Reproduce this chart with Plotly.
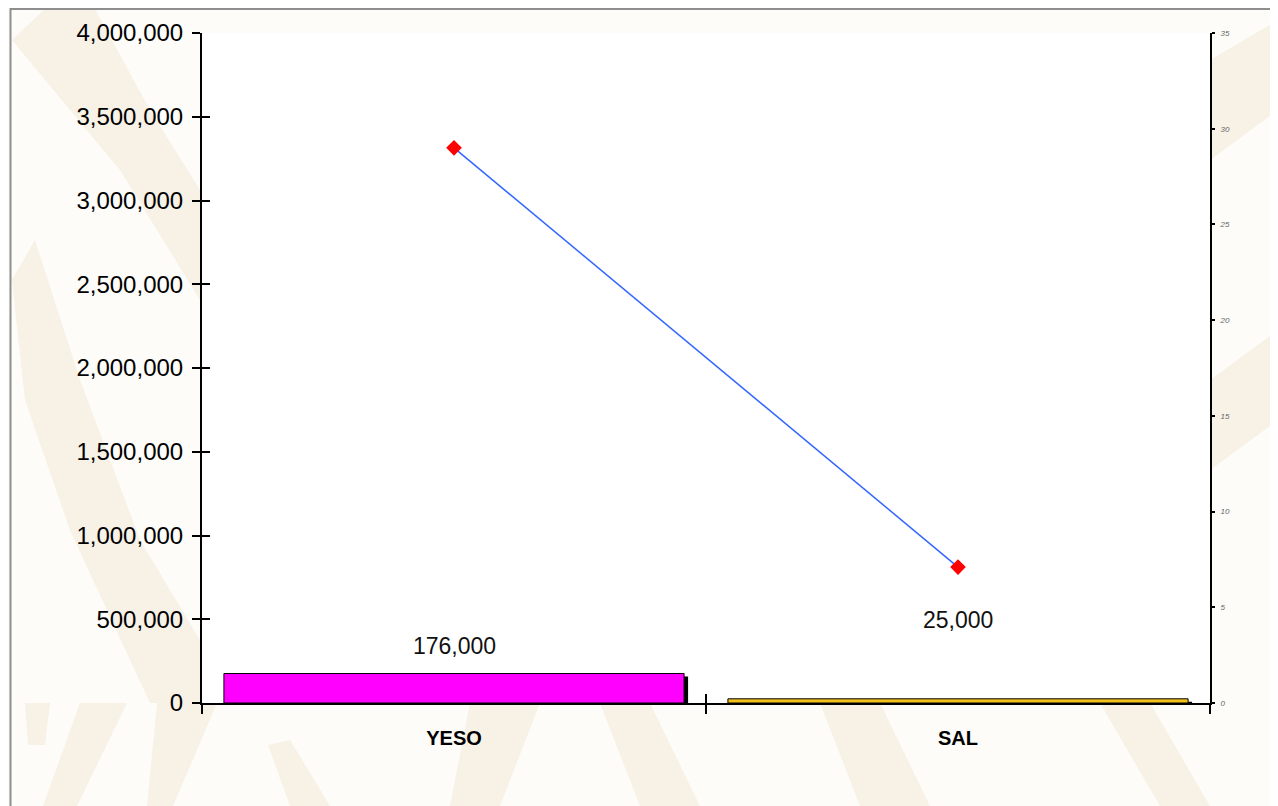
import plotly.graph_objects as go

# ---- data ----
categories = ["YESO", "SAL"]
bar_values = [176000, 25000]
bar_labels = ["176,000", "25,000"]
bar_colors = ["#FF00FF", "#F2C21B"]
line_values = [29.0, 7.1]

left_ticks = [0, 500000, 1000000, 1500000, 2000000, 2500000, 3000000, 3500000, 4000000]
right_ticks = [0, 5, 10, 15, 20, 25, 30, 35]

# ---- geometry (screen pixels; page has an 8px body margin) ----
OFF = 8
SW, SH = 1278, 806
W, H = SW - OFF, SH - OFF
PL, PR, PT, PB = 202, 1210, 33, 703   # plot area on screen
L, T = PL - OFF, PT - OFF
R, B = (OFF + W) - PR, (OFF + H) - PB
PW = PR - PL
PH = PB - PT
YMAX = 4000000
px_per_val = PH / YMAX

def xp(px):
    return (px - PL) / PW

def yp(py):
    return (PB - py) / PH

FONT = "Arial, 'Liberation Sans', sans-serif"
BAR_W = 0.913
shadow_dx = 4 / (PW / len(categories))
shadow_dy = 3 / px_per_val

fig = go.Figure()

# shadows
fig.add_trace(go.Bar(
    x=categories, y=bar_values, base=[-shadow_dy] * len(bar_values),
    width=BAR_W, offset=-BAR_W / 2 + shadow_dx,
    marker=dict(color="black", line=dict(width=0)),
    showlegend=False, hoverinfo="skip"))
# bars
fig.add_trace(go.Bar(
    x=categories, y=bar_values, width=BAR_W, offset=-BAR_W / 2,
    marker=dict(color=bar_colors, line=dict(color="black", width=1)),
    showlegend=False))
# line on secondary axis
fig.add_trace(go.Scatter(
    x=categories, y=line_values, yaxis="y2", mode="lines+markers",
    line=dict(color="#3366FF", width=1.5),
    marker=dict(symbol="diamond", size=12, color="#FF0000"),
    showlegend=False))
# helper trace for inner-tick axes
fig.add_trace(go.Scatter(
    x=categories, y=[None] * len(categories), xaxis="x2", yaxis="y3",
    mode="markers", showlegend=False, hoverinfo="skip"))

# value labels
label_shift = [28, 79]
for c, v, t, s in zip(categories, bar_values, bar_labels, label_shift):
    fig.add_annotation(x=c, y=v, text=t, showarrow=False, yshift=s,
                       font=dict(family=FONT, size=23, color="#111111"))

# background watermark bands (decoration)
bands = [
    [(12, 40), (45, 9), (95, 9), (150, 110), (200, 190), (200, 300), (120, 170)],
    [(12, 280), (35, 240), (80, 380), (140, 540), (200, 640), (200, 703), (150, 703), (70, 530), (25, 400)],
    [(25, 703), (50, 703), (45, 745), (28, 745)],
    [(80, 703), (127, 703), (77, 806), (43, 806)],
    [(157, 703), (217, 703), (173, 806), (147, 806)],
    [(268, 745), (290, 740), (330, 806), (290, 806)],
    [(470, 703), (540, 703), (500, 806), (450, 806)],
    [(600, 703), (650, 703), (700, 806), (640, 806)],
    [(820, 703), (880, 703), (930, 806), (860, 806)],
    [(1100, 703), (1150, 703), (1210, 806), (1160, 806)],
    [(1210, 60), (1278, 20), (1278, 110), (1210, 160)],
    [(1210, 380), (1278, 330), (1278, 420), (1210, 470)],
]
for poly in bands:
    path = "M " + " L ".join(f"{xp(x):.4f},{yp(y):.4f}" for x, y in poly) + " Z"
    fig.add_shape(type="path", path=path, xref="paper", yref="paper",
                  fillcolor="#F7F1E6", line=dict(width=0), layer="below")

# frame
fig.add_shape(type="rect", xref="paper", yref="paper",
              x0=xp(10.5), x1=xp(1300), y0=yp(830), y1=yp(9),
              line=dict(color="#8E8E8E", width=2), fillcolor="rgba(0,0,0,0)",
              layer="below")

fig.update_layout(
    width=W, height=H,
    margin=dict(l=L, r=R, t=T, b=B, pad=0),
    paper_bgcolor="#FDFCF9",
    plot_bgcolor="white",
    barmode="overlay",
    font=dict(family=FONT, color="black"),
    xaxis=dict(
        type="category", categoryorder="array", categoryarray=categories,
        showline=True, linecolor="black", linewidth=2,
        ticks="outside", ticklen=9, tickwidth=1.5, tickcolor="black",
        tickson="boundaries", showgrid=False, zeroline=False,
        tickfont=dict(family=FONT, size=20, color="black", weight="bold"),
        ticklabelstandoff=16),
    xaxis2=dict(
        type="category", categoryorder="array", categoryarray=categories,
        overlaying="x", anchor="y3", showline=False,
        ticks="inside", ticklen=9, tickwidth=1.5, tickcolor="black",
        tickson="boundaries", showticklabels=False, showgrid=False, zeroline=False),
    yaxis=dict(
        range=[0, YMAX], tickvals=left_ticks, tickformat=",",
        showline=True, linecolor="black", linewidth=2,
        ticks="outside", ticklen=8, tickwidth=1.5, tickcolor="black",
        showgrid=False, zeroline=False,
        tickfont=dict(family=FONT, size=24, color="black"),
        ticklabelstandoff=4),
    yaxis3=dict(
        range=[0, YMAX], tickvals=left_ticks, overlaying="y", anchor="x2",
        side="left", showline=False,
        ticks="inside", ticklen=8, tickwidth=1.5, tickcolor="black",
        showticklabels=False, showgrid=False, zeroline=False),
    yaxis2=dict(
        range=[0, 35], tickvals=right_ticks, overlaying="y", side="right",
        anchor="x",
        showline=True, linecolor="black", linewidth=2,
        ticks="outside", ticklen=3, tickwidth=1.5, tickcolor="black",
        showgrid=False, zeroline=False,
        tickfont=dict(family=FONT, size=8, color="#666666", style="italic"),
        ticklabelstandoff=4),
)

fig.write_html("out.html")
